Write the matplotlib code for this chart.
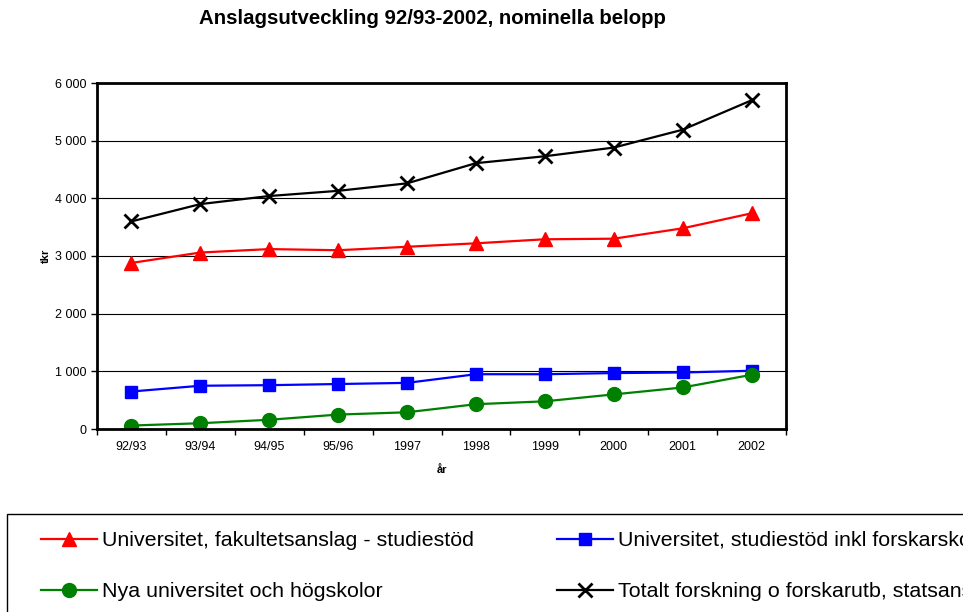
import matplotlib
matplotlib.use("Agg")
from matplotlib import pyplot as plt
from matplotlib.patches import Rectangle
from matplotlib.ticker import FuncFormatter, FixedLocator

plt.rcParams['font.family'] = ['Liberation Sans', 'DejaVu Sans']

# Data (tkr)
years = ["92/93", "93/94", "94/95", "95/96", "1997", "1998", "1999", "2000", "2001", "2002"]
fakultet = [2880, 3060, 3120, 3100, 3160, 3220, 3290, 3300, 3480, 3740]
studiestod = [650, 750, 760, 780, 800, 950, 950, 970, 980, 1010]
nya = [60, 100, 160, 250, 290, 430, 480, 600, 720, 940]
totalt = [3600, 3900, 4040, 4130, 4260, 4610, 4730, 4880, 5190, 5700]

labels = [
    "Universitet, fakultetsanslag - studiestöd",
    "Universitet, studiestöd inkl forskarskolor",
    "Nya universitet och högskolor",
    "Totalt forskning o forskarutb, statsanslag",
]

fig = plt.figure(figsize=(9.63, 6.12), dpi=100)
ax = fig.add_axes([97 / 963, 1 - 429 / 612, (786 - 97) / 963, (429 - 83) / 612])

x = list(range(len(years)))
l1, = ax.plot(x, fakultet, color='#FF0000', lw=1.6, marker='^', ms=10, label=labels[0])
l2, = ax.plot(x, studiestod, color='#0000FF', lw=1.6, marker='s', ms=9, label=labels[1])
l3, = ax.plot(x, nya, color='#008000', lw=1.6, marker='o', ms=10, label=labels[2])
l4, = ax.plot(x, totalt, color='black', lw=1.6, marker='x', ms=10, mew=2, label=labels[3])

ax.set_xlim(-0.5, len(years) - 0.5)
ax.set_ylim(0, 6000)
ax.set_yticks(range(0, 6001, 1000))
ax.yaxis.set_major_formatter(FuncFormatter(lambda v, p: f"{int(v):,}".replace(",", " ")))
ax.set_xticks(x)
ax.set_xticklabels(years)
ax.xaxis.set_minor_locator(FixedLocator([i - 0.5 for i in range(len(years) + 1)]))
ax.tick_params(axis='x', which='major', length=0, labelsize=9, pad=9)
ax.tick_params(axis='x', which='minor', length=4, width=1)
ax.tick_params(axis='y', length=4, width=1, labelsize=9)
ax.grid(axis='y', color='black', lw=0.8)
ax.set_axisbelow(True)
for s in ax.spines.values():
    s.set_linewidth(2)

ax.set_ylabel("tkr", fontsize=8, fontweight='bold', labelpad=3)
ax.set_xlabel("år", fontsize=8, fontweight='bold', labelpad=8)

fig.text(0.449, 1 - 19 / 612, "Anslagsutveckling 92/93-2002, nominella belopp",
         ha='center', va='center', fontsize=14.7, fontweight='bold')

# legend frame runs past the right and bottom edges of the figure
fig.add_artist(Rectangle((7 / 963, -0.2), 2, 0.2 + (1 - 514 / 612),
                         transform=fig.transFigure, fill=False, ec='black', lw=1))

# legend fills column-wise, so order handles to get row-wise layout
leg = fig.legend([l1, l3, l2, l4], [labels[0], labels[2], labels[1], labels[3]],
                 ncol=2, loc='upper left', bbox_to_anchor=(41 / 963, 1 - 531 / 612),
                 borderaxespad=0, borderpad=0, fontsize=15.4, frameon=False,
                 labelspacing=1.5, handlelength=2.6, handletextpad=0.25,
                 columnspacing=3.9)

fig.savefig("out.png", dpi=100)
